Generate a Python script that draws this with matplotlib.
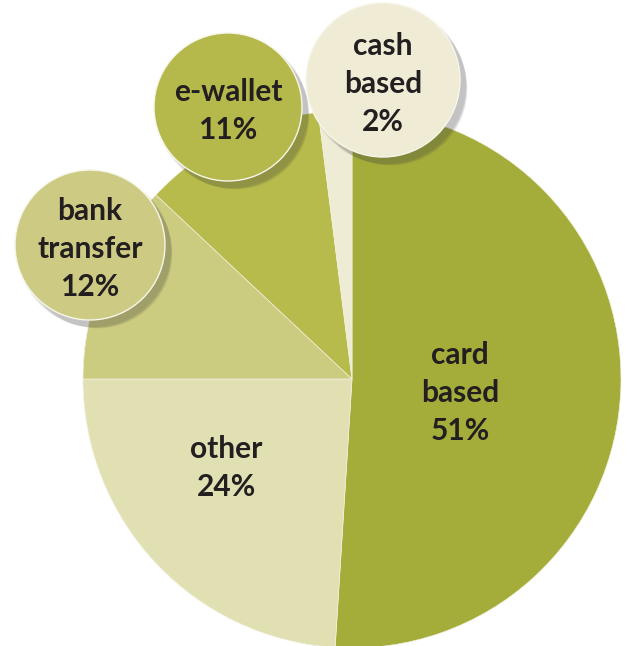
import matplotlib
matplotlib.use("Agg")
import matplotlib.pyplot as plt
from matplotlib.patches import Circle

# payment method shares (%), clockwise from 12 o'clock
methods = ["card\nbased", "other", "bank\ntransfer", "e-wallet", "cash\nbased"]
shares = [51, 24, 12, 11, 2]
colors = ["#a4ac3a", "#e0e0b3", "#cccc80", "#b7bb4c", "#efecd5"]

# which slices get their label in a bubble, and where the bubbles sit (px)
bubble_methods = ["cash\nbased", "e-wallet", "bank\ntransfer"]
bubble_xy = [(383, 80), (228, 107), (90, 245)]
bubble_r = [77, 74, 75]
bubble_colors = ["#efebd5", "#b5b94b", "#cdcb83"]

W, H = 627, 646
fig = plt.figure(figsize=(W / 100, H / 100), dpi=100)
ax = fig.add_axes([0, 0, 1, 1])

cx, cy, R = 352, H - 379, 269
ax.pie(shares, colors=colors, startangle=90, counterclock=False,
       center=(cx, cy), radius=R,
       wedgeprops=dict(edgecolor="#f2f0dc", linewidth=0.5))

font = dict(family=["Lato", "DejaVu Sans"], weight="bold",
            color="#231f20", ha="center", va="center", fontsize=21.5,
            linespacing=1.45)

def label(name, pct):
    return f"{name}\n{pct}%"

# labels inside the two big slices
ax.text(460, H - 393, label(methods[0], shares[0]), **font)
ax.text(226, H - 468, label(methods[1], shares[1]), **font)

# bubbles with a soft drop shadow
for name, (bx, by), r, c in zip(bubble_methods, bubble_xy, bubble_r, bubble_colors):
    by = H - by
    for k in range(8):
        ax.add_patch(Circle((bx + 4 + k * 0.6, by - 5 - k * 0.6), r + 2 - k * 0.4,
                            color="#404040", alpha=0.045, lw=0, zorder=3))
    ax.add_patch(Circle((bx, by), r, facecolor=c, edgecolor="#f7f6ea",
                        lw=1.0, zorder=4))
    pct = shares[methods.index(name)]
    ax.text(bx, by - 4, label(name, pct), zorder=5, **font)

ax.set_xlim(0, W)
ax.set_ylim(0, H)
ax.set_aspect("equal")
ax.axis("off")

fig.savefig("out.png", dpi=100, facecolor="white")
